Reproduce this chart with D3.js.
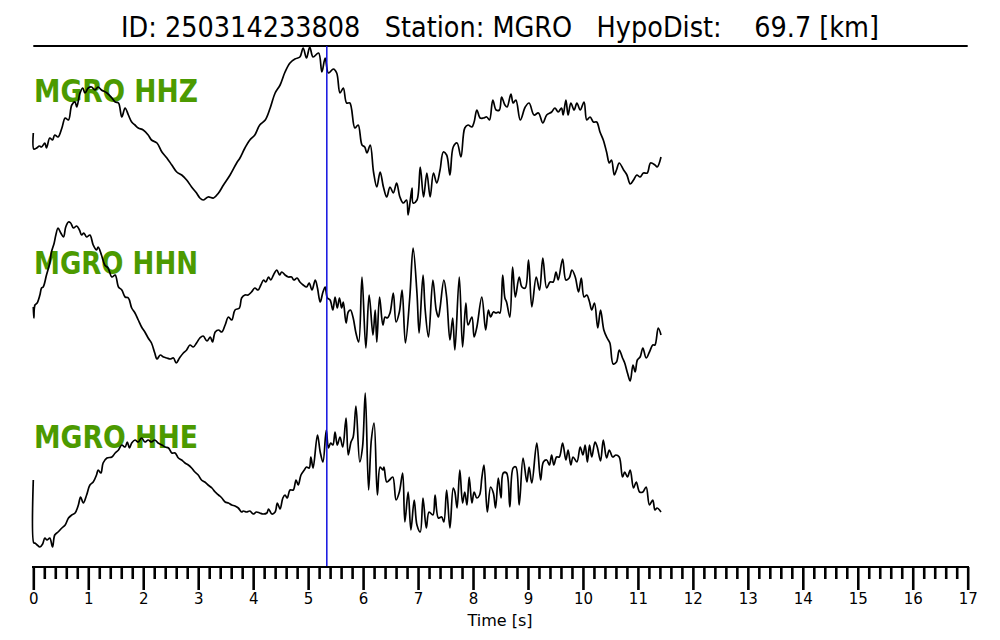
<!DOCTYPE html>
<html><head><meta charset="utf-8">
<script src="https://cdn.jsdelivr.net/npm/d3@7"></script>
<style>body{margin:0;background:#fff}svg{display:block}</style>
</head><body>
<script>
// ---- data ----
const titleText = "ID: 250314233808   Station: MGRO   HypoDist:    69.7 [km]";
const channels = ["MGRO HHZ", "MGRO HHN", "MGRO HHE"];
const pickTime = 5.34;
const majorTicks = [0,1,2,3,4,5,6,7,8,9,10,11,12,13,14,15,16,17];
const xLabel = "Time [s]";

const hhzT = [0.00,0.01,0.06,0.11,0.15,0.21,0.24,0.30,0.35,0.39,0.45,0.52,0.58,0.64,0.70,0.76,0.79,0.85,0.90,0.94,1.00,1.06,1.12,1.18,1.24,1.34,1.43,1.49,1.55,1.61,1.67,1.73,1.79,1.85,1.91,2.00,2.09,2.15,2.25,2.34,2.43,2.52,2.61,2.70,2.79,2.88,2.97,3.03,3.09,3.18,3.28,3.37,3.46,3.58,3.70,3.76,3.85,3.94,4.03,4.12,4.22,4.31,4.40,4.49,4.58,4.67,4.76,4.85,4.91,4.97,5.03,5.09,5.19,5.25,5.31,5.37,5.46,5.52,5.58,5.64,5.70,5.76,5.85,5.91,5.98,6.03,6.07,6.13,6.19,6.25,6.31,6.37,6.43,6.49,6.55,6.61,6.67,6.73,6.79,6.82,6.89,6.91,6.98,7.04,7.10,7.16,7.22,7.28,7.34,7.40,7.46,7.52,7.58,7.64,7.71,7.78,7.85,7.91,7.98,8.02,8.07,8.13,8.19,8.25,8.30,8.36,8.42,8.48,8.52,8.58,8.62,8.69,8.73,8.78,8.86,8.95,9.02,9.11,9.19,9.27,9.34,9.43,9.49,9.55,9.61,9.64,9.69,9.73,9.78,9.84,9.89,9.95,10.02,10.07,10.13,10.19,10.25,10.31,10.37,10.43,10.48,10.52,10.57,10.61,10.66,10.74,10.80,10.86,10.92,10.98,11.04,11.10,11.17,11.23,11.31,11.35,11.42];
const hhzV = [-3,-19,-18,-16,-17,-13,-18,-8,-10,-5,-7,2,12,10,25,28,23,37,42,37,42,43,40,43,40,37,32,28,27,13,22,15,8,5,2,0,-5,-10,-13,-22,-28,-35,-42,-45,-50,-57,-63,-68,-70,-67,-68,-63,-55,-45,-33,-28,-18,-10,-5,5,10,22,37,45,58,67,71,73,82,72,83,73,77,58,72,57,61,57,37,42,27,27,2,5,-15,-17,-23,-15,-42,-57,-42,-57,-67,-57,-63,-53,-67,-73,-70,-85,-58,-73,-70,-37,-67,-43,-67,-43,-53,-40,-22,-25,-45,-17,-13,-27,2,5,3,8,20,12,12,13,10,30,20,20,33,25,23,36,27,30,10,23,27,15,17,7,15,18,22,18,22,15,30,15,27,20,27,20,28,10,13,8,8,-2,-10,-22,-33,-30,-45,-40,-33,-40,-45,-54,-50,-45,-47,-43,-43,-33,-35,-37,-27];

const hhnT = [0.00,0.01,0.03,0.07,0.12,0.15,0.18,0.24,0.30,0.33,0.38,0.41,0.45,0.50,0.55,0.59,0.64,0.68,0.73,0.79,0.84,0.88,0.92,0.97,1.03,1.09,1.15,1.18,1.24,1.30,1.36,1.43,1.49,1.55,1.61,1.67,1.73,1.79,1.85,1.91,1.97,2.03,2.09,2.15,2.21,2.25,2.31,2.37,2.43,2.49,2.55,2.60,2.66,2.73,2.79,2.85,2.91,2.97,3.03,3.09,3.16,3.22,3.26,3.31,3.37,3.43,3.49,3.55,3.61,3.67,3.75,3.79,3.85,3.91,3.97,4.03,4.09,4.14,4.19,4.23,4.28,4.32,4.37,4.43,4.48,4.52,4.58,4.64,4.70,4.74,4.80,4.85,4.91,4.97,5.02,5.07,5.13,5.17,5.22,5.27,5.31,5.35,5.40,5.45,5.49,5.53,5.57,5.61,5.64,5.69,5.73,5.77,5.82,5.87,5.92,5.98,6.05,6.11,6.18,6.22,6.25,6.30,6.36,6.40,6.44,6.49,6.55,6.60,6.66,6.71,6.77,6.85,6.91,6.98,7.02,7.09,7.13,7.19,7.27,7.33,7.37,7.40,7.47,7.52,7.58,7.63,7.67,7.75,7.81,7.87,7.91,7.98,8.02,8.07,8.16,8.23,8.28,8.32,8.37,8.42,8.46,8.49,8.54,8.58,8.61,8.67,8.72,8.77,8.84,8.89,8.95,9.01,9.07,9.15,9.21,9.27,9.34,9.40,9.46,9.51,9.55,9.63,9.69,9.75,9.80,9.86,9.92,9.97,10.02,10.07,10.12,10.16,10.21,10.27,10.32,10.38,10.44,10.49,10.55,10.61,10.66,10.72,10.76,10.81,10.86,10.91,10.95,10.99,11.04,11.09,11.15,11.21,11.27,11.31,11.37,11.42];
const hhnV = [-7,-18,-5,-3,5,12,13,25,37,48,57,65,72,67,63,73,78,77,72,74,70,65,67,63,65,55,50,53,45,35,32,23,25,13,10,3,2,-8,-13,-20,-27,-32,-38,-43,-53,-59,-55,-57,-58,-59,-58,-63,-58,-53,-50,-45,-47,-43,-38,-36,-41,-37,-42,-32,-30,-32,-25,-17,-20,-10,-8,2,5,5,8,12,10,15,20,18,23,20,25,30,25,28,25,23,23,20,22,18,15,13,17,10,20,12,-2,8,13,2,0,-10,3,-8,2,-8,-2,-23,-12,-10,-18,-33,-42,23,-48,5,-35,-10,-42,3,-25,-17,-18,-13,7,-22,-12,10,-43,3,52,7,-33,25,-10,-37,20,-10,-17,-8,20,3,-40,-18,-50,23,-47,-3,-25,-17,-37,-27,3,-30,-10,-17,-12,-13,-12,-13,25,2,-2,-17,33,3,23,13,12,40,-7,23,10,42,12,18,18,28,20,41,20,22,30,23,8,22,3,5,-2,-10,-3,-28,-10,-30,-38,-43,-64,-62,-50,-58,-63,-73,-81,-65,-72,-60,-57,-48,-58,-52,-45,-45,-28,-35];

const hheT = [0.00,0.01,0.03,0.07,0.12,0.17,0.21,0.25,0.30,0.35,0.39,0.45,0.52,0.58,0.64,0.70,0.76,0.82,0.86,0.91,0.97,1.03,1.09,1.15,1.18,1.23,1.27,1.34,1.43,1.49,1.55,1.61,1.67,1.71,1.75,1.79,1.85,1.91,1.97,2.03,2.09,2.15,2.21,2.27,2.34,2.40,2.46,2.52,2.58,2.64,2.70,2.76,2.82,2.88,2.94,3.00,3.06,3.12,3.18,3.25,3.31,3.37,3.43,3.49,3.55,3.61,3.67,3.73,3.79,3.82,3.88,3.94,4.00,4.06,4.12,4.18,4.25,4.28,4.34,4.40,4.44,4.49,4.54,4.58,4.62,4.67,4.73,4.78,4.82,4.87,4.93,4.97,5.02,5.05,5.09,5.17,5.22,5.27,5.33,5.37,5.41,5.45,5.49,5.53,5.58,5.63,5.69,5.73,5.78,5.82,5.87,5.94,5.99,6.04,6.10,6.15,6.20,6.26,6.31,6.36,6.38,6.43,6.48,6.54,6.60,6.66,6.72,6.76,6.82,6.87,6.93,6.98,7.04,7.09,7.15,7.20,7.27,7.31,7.37,7.43,7.47,7.52,7.58,7.64,7.67,7.71,7.76,7.81,7.85,7.89,7.93,7.98,8.02,8.07,8.12,8.16,8.20,8.26,8.32,8.37,8.41,8.46,8.51,8.55,8.61,8.67,8.73,8.78,8.84,8.91,8.98,9.02,9.07,9.16,9.23,9.28,9.34,9.39,9.43,9.47,9.52,9.57,9.63,9.69,9.73,9.78,9.82,9.89,9.95,10.00,10.04,10.08,10.12,10.16,10.22,10.26,10.32,10.37,10.43,10.48,10.54,10.60,10.66,10.72,10.76,10.81,10.86,10.92,10.97,11.03,11.09,11.15,11.21,11.27,11.31,11.35,11.42];
const hheV = [-10,-73,-73,-75,-77,-74,-68,-70,-68,-77,-65,-62,-58,-55,-48,-45,-43,-35,-27,-33,-25,-15,-12,-5,0,-3,7,12,13,17,20,25,23,28,22,27,30,28,32,28,30,28,30,27,25,23,22,17,17,12,10,7,5,2,-2,-5,-10,-12,-15,-18,-22,-25,-28,-32,-33,-35,-36,-38,-42,-41,-42,-41,-44,-42,-43,-44,-43,-39,-44,-42,-33,-39,-28,-25,-28,-20,-20,-10,-15,-5,0,3,2,13,2,35,18,8,40,22,27,25,38,25,33,23,52,15,28,33,64,8,23,77,-20,30,47,-25,3,0,3,-12,-10,-7,-30,-22,-3,-52,-22,-60,-30,-55,-62,-28,-58,-42,-45,-25,-48,-47,-52,-20,-58,-18,-22,-38,0,-33,-22,-35,-7,-33,-22,-28,-25,-8,5,-42,-17,-23,-38,-8,-28,-3,-3,-37,2,3,-35,12,-12,3,-13,27,-10,8,10,5,15,5,13,13,27,10,20,5,13,8,23,15,25,8,25,13,28,23,9,30,12,20,13,15,13,-7,-2,-7,0,-18,-12,-22,-22,-17,-35,-30,-40,-38,-42];

// ---- chart ----
const W = 1000, H = 640;
const svg = d3.select("body").append("svg").attr("width", W).attr("height", H);

const x = d3.scaleLinear().domain([0, 17]).range([33.3, 967.7]);
const rowY = d3.scalePoint().domain(channels).range([130, 470]);
const amp = d3.scaleLinear().domain([-100, 100]).range([100, -100]);

// title
svg.append("text")
  .attr("x", 500).attr("y", 37)
  .attr("text-anchor", "middle")
  .attr("font-family", "DejaVu Sans")
  .attr("font-size", 29)
  .attr("textLength", 758).attr("lengthAdjust", "spacingAndGlyphs")
  .attr("xml:space", "preserve")
  .style("white-space", "pre")
  .text(titleText);

svg.append("line")
  .attr("x1", x(0)).attr("x2", x(17)).attr("y1", 46).attr("y2", 46)
  .attr("stroke", "#000").attr("stroke-width", 2);

// channel labels
const labelBase = {"MGRO HHZ": 102, "MGRO HHN": 274, "MGRO HHE": 448};
svg.selectAll("text.lab").data(channels).join("text")
  .attr("class", "lab")
  .attr("x", 34).attr("y", d => labelBase[d])
  .attr("font-family", "DejaVu Sans").attr("font-weight", "bold")
  .attr("font-size", 32)
  .attr("textLength", 164).attr("lengthAdjust", "spacingAndGlyphs")
  .attr("fill", "#4c9a00")
  .text(d => d);

// traces
const series = [
  {ch: channels[0], t: hhzT, v: hhzV},
  {ch: channels[1], t: hhnT, v: hhnV},
  {ch: channels[2], t: hheT, v: hheV}
];
const line = d3.line().curve(d3.curveCatmullRom.alpha(0.5));
series.forEach(s => {
  const pts = s.t.map((t, i) => [x(t), rowY(s.ch) + amp(s.v[i])]);
  svg.append("path").attr("d", line(pts))
    .attr("fill", "none").attr("stroke", "#000")
    .attr("stroke-width", 1.7).attr("stroke-linejoin", "round");
});

// pick line
svg.append("line")
  .attr("x1", x(pickTime)).attr("x2", x(pickTime))
  .attr("y1", 46).attr("y2", 567)
  .attr("stroke", "#1010e0").attr("stroke-width", 1.5);

// axis
const minorTicks = d3.range(0, 85).map(i => i / 5).filter(v => Math.abs(v - Math.round(v)) > 1e-6);
const gMinor = svg.append("g").attr("transform", "translate(0,567)")
  .call(d3.axisBottom(x).tickValues(minorTicks).tickSize(12).tickSizeOuter(0).tickFormat(""));
gMinor.select(".domain").remove();
gMinor.selectAll("line").attr("stroke-width", 2.6);

const gMajor = svg.append("g").attr("transform", "translate(0,567)")
  .call(d3.axisBottom(x).tickValues(majorTicks).tickSize(23).tickSizeOuter(0).tickPadding(3).tickFormat(d3.format("d")));
gMajor.select(".domain").remove();
gMajor.selectAll("line").attr("stroke-width", 2.6);
gMajor.selectAll("text").attr("font-family", "DejaVu Sans").attr("font-size", 15).attr("fill", "#000");

svg.append("line")
  .attr("x1", x(0) - 1.3).attr("x2", x(17) + 1.3).attr("y1", 567).attr("y2", 567)
  .attr("stroke", "#000").attr("stroke-width", 2);

svg.append("text")
  .attr("x", 500).attr("y", 626)
  .attr("text-anchor", "middle")
  .attr("font-family", "DejaVu Sans").attr("font-size", 16)
  .text(xLabel);
</script>
</body></html>
